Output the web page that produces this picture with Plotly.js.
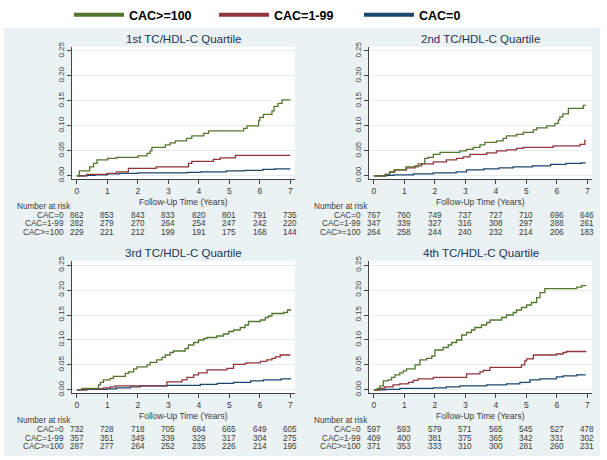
<!DOCTYPE html>
<html><head><meta charset="utf-8">
<script src="https://cdn.plot.ly/plotly-3.0.1.min.js"></script>
<style>html,body{margin:0;padding:0;background:#fff}#chart{width:607px;height:460px}</style>
</head><body><div id="chart"></div>
<script>
// ---------- DATA ----------
const years = [0, 1, 2, 3, 4, 5, 6, 7];
const groupNames = ['CAC>=100', 'CAC=1-99', 'CAC=0'];
const panelTitles = ['1st TC/HDL-C Quartile', '2nd TC/HDL-C Quartile', '3rd TC/HDL-C Quartile', '4th TC/HDL-C Quartile'];
const xTitle = 'Follow-Up Time (Years)';
const riskHeader = 'Number at risk';
const riskRowLabels = ['CAC=0', 'CAC=1-99', 'CAC>=100'];

// Q1 cumulative incidence (step curves)
const q1_cac100_t = [0, 0.08, 0.42, 0.55, 0.66, 1.01, 1.3, 2.0, 2.3, 2.4, 2.46, 2.9, 3.06, 3.23, 3.6, 3.77, 4.16, 4.32, 5.47, 5.58, 5.96, 6.0, 6.12, 6.4, 6.47, 6.6, 6.73, 7.0];
const q1_cac100_y = [0, 0.010, 0.018, 0.025, 0.032, 0.035, 0.037, 0.040, 0.045, 0.050, 0.057, 0.062, 0.066, 0.070, 0.075, 0.080, 0.085, 0.090, 0.095, 0.100, 0.110, 0.117, 0.123, 0.130, 0.139, 0.145, 0.152, 0.152];
const q1_cac1_t = [0, 0.33, 0.98, 1.3, 1.69, 2.6, 3.66, 3.77, 4.48, 4.7, 5.2, 7.0];
const q1_cac1_y = [0, 0.003, 0.005, 0.008, 0.015, 0.018, 0.025, 0.029, 0.033, 0.036, 0.041, 0.041];
const q1_cac0_t = [0, 0.3, 0.6, 1.0, 1.4, 2.0, 3.6, 4.05, 4.9, 5.5, 6.1, 6.5, 7.0];
const q1_cac0_y = [0, 0.001, 0.002, 0.004, 0.005, 0.006, 0.007, 0.008, 0.010, 0.011, 0.013, 0.014, 0.014];

// Q2
const q2_cac100_t = [0, 0.36, 0.52, 0.66, 1.05, 1.45, 1.67, 1.78, 1.95, 2.17, 2.82, 3.04, 3.26, 3.48, 3.64, 4.02, 4.24, 4.35, 4.68, 4.9, 5.23, 5.34, 5.67, 5.94, 6.05, 6.1, 6.2, 6.38, 6.87, 6.95];
const q2_cac100_y = [0, 0.003, 0.007, 0.012, 0.018, 0.024, 0.035, 0.037, 0.043, 0.047, 0.050, 0.053, 0.057, 0.062, 0.067, 0.070, 0.075, 0.080, 0.083, 0.087, 0.092, 0.096, 0.100, 0.105, 0.112, 0.118, 0.124, 0.135, 0.141, 0.141];
const q2_cac1_t = [0, 0.4, 0.52, 0.69, 1.07, 1.35, 1.56, 1.95, 2.38, 2.71, 2.93, 3.15, 3.7, 4.02, 4.35, 4.68, 4.9, 5.88, 6.76, 6.92, 6.95];
const q2_cac1_y = [0, 0.003, 0.008, 0.012, 0.016, 0.020, 0.024, 0.028, 0.032, 0.035, 0.038, 0.043, 0.046, 0.050, 0.052, 0.055, 0.057, 0.060, 0.063, 0.071, 0.071];
const q2_cac0_t = [0, 0.4, 0.65, 1.3, 1.95, 2.7, 3.04, 3.6, 4.1, 4.57, 5.2, 5.8, 6.3, 6.8, 6.95];
const q2_cac0_y = [0, 0.001, 0.002, 0.004, 0.006, 0.008, 0.012, 0.014, 0.016, 0.018, 0.020, 0.023, 0.025, 0.026, 0.026];

// Q3
const q3_cac100_t = [0, 0.16, 0.71, 0.77, 0.87, 1.09, 1.2, 1.59, 1.7, 1.86, 1.97, 2.3, 2.4, 2.62, 2.79, 2.9, 3.06, 3.17, 3.55, 3.66, 3.83, 3.99, 4.16, 4.27, 4.59, 4.81, 4.98, 5.14, 5.36, 5.52, 5.63, 6.02, 6.18, 6.29, 6.4, 6.78, 6.91, 7.0];
const q3_cac100_y = [0, 0.003, 0.010, 0.015, 0.020, 0.023, 0.027, 0.033, 0.036, 0.042, 0.046, 0.050, 0.055, 0.060, 0.065, 0.070, 0.075, 0.078, 0.083, 0.090, 0.095, 0.100, 0.103, 0.105, 0.108, 0.112, 0.117, 0.120, 0.125, 0.130, 0.137, 0.140, 0.145, 0.148, 0.153, 0.155, 0.160, 0.162];
const q3_cac1_t = [0, 0.33, 0.87, 1.09, 1.26, 2.95, 3.45, 3.61, 3.83, 3.99, 4.27, 4.92, 5.14, 5.52, 5.58, 6.02, 6.23, 6.4, 6.51, 6.67, 7.0];
const q3_cac1_y = [0, 0.002, 0.004, 0.006, 0.008, 0.016, 0.020, 0.025, 0.030, 0.034, 0.040, 0.043, 0.051, 0.053, 0.054, 0.057, 0.060, 0.063, 0.066, 0.070, 0.070];
const q3_cac0_t = [0, 0.33, 0.98, 1.3, 1.75, 2.08, 2.95, 4.05, 4.6, 5.14, 5.7, 6.12, 6.7, 7.0];
const q3_cac0_y = [0, 0.001, 0.002, 0.004, 0.006, 0.008, 0.009, 0.011, 0.013, 0.015, 0.018, 0.020, 0.022, 0.024];

// Q4
const q4_cac100_t = [0, 0.11, 0.2, 0.31, 0.47, 0.58, 0.69, 0.85, 0.96, 1.07, 1.35, 1.51, 1.73, 1.9, 2.0, 2.27, 2.44, 2.55, 2.71, 2.88, 3.04, 3.2, 3.31, 3.53, 3.7, 3.81, 4.19, 4.35, 4.57, 4.68, 4.84, 5.01, 5.17, 5.34, 5.45, 5.61, 6.65, 6.81, 6.95];
const q4_cac100_y = [0, 0.003, 0.008, 0.018, 0.020, 0.025, 0.030, 0.034, 0.038, 0.042, 0.050, 0.060, 0.063, 0.068, 0.080, 0.085, 0.090, 0.095, 0.100, 0.110, 0.115, 0.120, 0.125, 0.130, 0.135, 0.140, 0.145, 0.150, 0.155, 0.160, 0.165, 0.170, 0.175, 0.185, 0.195, 0.203, 0.206, 0.209, 0.210];
const q4_cac1_t = [0, 0.2, 0.36, 0.63, 0.85, 1.13, 1.29, 1.45, 1.95, 3.04, 3.48, 3.59, 3.81, 4.84, 4.95, 5.01, 5.23, 5.99, 6.21, 6.32, 6.95];
const q4_cac1_y = [0, 0.003, 0.006, 0.010, 0.012, 0.015, 0.019, 0.022, 0.025, 0.032, 0.036, 0.039, 0.045, 0.050, 0.058, 0.062, 0.070, 0.072, 0.075, 0.077, 0.078];
const q4_cac0_t = [0, 0.4, 0.85, 1.95, 2.38, 2.82, 3.7, 4.35, 4.79, 5.12, 5.45, 5.99, 6.21, 6.65, 6.95];
const q4_cac0_y = [0, 0.001, 0.003, 0.004, 0.006, 0.008, 0.010, 0.012, 0.015, 0.020, 0.022, 0.026, 0.028, 0.030, 0.030];

// Number at risk
const q1_risk_cac0 = [862, 853, 843, 833, 820, 801, 791, 735];
const q1_risk_cac1 = [282, 279, 270, 264, 254, 247, 242, 220];
const q1_risk_cac100 = [229, 221, 212, 199, 191, 175, 168, 144];
const q2_risk_cac0 = [767, 760, 749, 737, 727, 710, 696, 646];
const q2_risk_cac1 = [347, 339, 327, 316, 308, 297, 288, 261];
const q2_risk_cac100 = [264, 258, 244, 240, 232, 214, 206, 183];
const q3_risk_cac0 = [732, 728, 718, 705, 684, 665, 649, 605];
const q3_risk_cac1 = [357, 351, 349, 339, 329, 317, 304, 275];
const q3_risk_cac100 = [287, 277, 264, 252, 235, 226, 214, 195];
const q4_risk_cac0 = [597, 593, 579, 571, 565, 545, 527, 478];
const q4_risk_cac1 = [409, 400, 381, 375, 365, 342, 331, 302];
const q4_risk_cac100 = [371, 353, 333, 310, 300, 281, 260, 231];

// ---------- BUILD ----------
const W = 607, H = 460;
const COL = {g: '#55752f', r: '#90353b', b: '#1a476f'};
const FONT = 'Liberation Sans, Arial, sans-serif';
const TXT = '#3a3a3a';
const fx = px => px / W;
const fy = py => 1 - py / H;

const panels = [
  {curves: [[q1_cac0_t, q1_cac0_y], [q1_cac1_t, q1_cac1_y], [q1_cac100_t, q1_cac100_y]], risk: [q1_risk_cac0, q1_risk_cac1, q1_risk_cac100]},
  {curves: [[q2_cac0_t, q2_cac0_y], [q2_cac1_t, q2_cac1_y], [q2_cac100_t, q2_cac100_y]], risk: [q2_risk_cac0, q2_risk_cac1, q2_risk_cac100]},
  {curves: [[q3_cac0_t, q3_cac0_y], [q3_cac1_t, q3_cac1_y], [q3_cac100_t, q3_cac100_y]], risk: [q3_risk_cac0, q3_risk_cac1, q3_risk_cac100]},
  {curves: [[q4_cac0_t, q4_cac0_y], [q4_cac1_t, q4_cac1_y], [q4_cac100_t, q4_cac100_y]], risk: [q4_risk_cac0, q4_risk_cac1, q4_risk_cac100]}
];
const curveColors = [COL.b, COL.r, COL.g];

// pixel geometry of each panel
const geo = [
  {x0: 72, x1: 295, y0: 44, y1: 177, dx: 0},
  {x0: 369, x1: 592, y0: 44, y1: 177, dx: 297.3},
  {x0: 72, x1: 295, y0: 259.5, y1: 392.5, dx: 0},
  {x0: 369, x1: 592, y0: 259.5, y1: 392.5, dx: 297.3}
];

const traces = [];
const layout = {
  width: W, height: H,
  margin: {l: 0, r: 0, t: 0, b: 0},
  paper_bgcolor: '#ffffff',
  plot_bgcolor: 'rgba(0,0,0,0)',
  font: {family: FONT, color: TXT, size: 8},
  shapes: [{type: 'rect', xref: 'paper', yref: 'paper', x0: fx(4), x1: fx(600), y0: fy(456), y1: fy(25), fillcolor: '#eaf2f3', line: {width: 0}, layer: 'below'}],
  annotations: []
};

panels.forEach((p, i) => {
  const n = i + 1;
  const xa = 'x' + (n === 1 ? '' : n), ya = 'y' + (n === 1 ? '' : n);
  const g = geo[i];
  p.curves.forEach((c, k) => {
    traces.push({x: c[0], y: c[1], xaxis: xa, yaxis: ya, type: 'scatter', mode: 'lines',
      line: {shape: 'hv', color: curveColors[k], width: 1.3}, showlegend: false, hoverinfo: 'skip'});
  });
  layout['xaxis' + (n === 1 ? '' : n)] = {
    domain: [fx(g.x0), fx(g.x1)], anchor: ya, range: [-0.16, 7.155],
    tickmode: 'array', tickvals: years, ticktext: years.map(String),
    showline: true, linecolor: '#444', linewidth: 1, ticks: 'outside', ticklen: 4, tickcolor: '#444',
    showgrid: false, zeroline: false, tickfont: {size: 8.5, color: TXT}
  };
  layout['yaxis' + (n === 1 ? '' : n)] = {
    domain: [fy(g.y1), fy(g.y0)], anchor: xa, range: [-0.006, 0.2585],
    tick0: 0, dtick: 0.05, tickformat: '.2f', tickangle: -90,
    showline: true, linecolor: '#444', linewidth: 1, ticks: 'outside', ticklen: 4, tickcolor: '#444',
    showgrid: true, gridcolor: '#e6edef', gridwidth: 1, zeroline: false, tickfont: {size: 8, color: TXT}
  };
  // white plot region
  layout.shapes.push({type: 'rect', xref: xa + ' domain', yref: ya + ' domain', x0: 0, x1: 1, y0: 0, y1: 1, fillcolor: '#ffffff', line: {width: 0}, layer: 'below'});
  // panel title
  layout.annotations.push({text: panelTitles[i], xref: xa + ' domain', x: 0.5, yref: 'paper', y: fy(g.y0 - 8), xanchor: 'center', yanchor: 'middle', showarrow: false, font: {size: 11.5, color: '#1c3557'}});
  // x axis title
  layout.annotations.push({text: xTitle, xref: xa + ' domain', x: 0.5, yref: 'paper', y: fy(g.y1 + 23.5), xanchor: 'center', yanchor: 'middle', showarrow: false, font: {size: 8.5, color: TXT}});
  // number at risk table
  const base = g.y1 + 28;
  layout.annotations.push({text: riskHeader, xref: 'paper', x: fx(15 + g.dx), yref: 'paper', y: fy(base), xanchor: 'left', yanchor: 'middle', showarrow: false, font: {size: 8.2, color: TXT}});
  p.risk.forEach((row, r) => {
    const yy = fy(base + 8.7 * (r + 1));
    layout.annotations.push({text: riskRowLabels[r], xref: 'paper', x: fx(66 + g.dx), yref: 'paper', y: yy, xanchor: 'right', yanchor: 'middle', showarrow: false, font: {size: 8.2, color: TXT}});
    row.forEach((v, j) => {
      layout.annotations.push({text: String(v), xref: xa, x: years[j], yref: 'paper', y: yy, xanchor: 'center', yanchor: 'middle', showarrow: false, font: {size: 8.2, color: TXT}});
    });
  });
});

// legend: one entry per group, thick line symbols
const legendSpec = [
  {name: groupNames[0], color: COL.g, textStart: 130},
  {name: groupNames[1], color: COL.r, textStart: 275},
  {name: groupNames[2], color: COL.b, textStart: 420}
];
legendSpec.forEach((s, k) => {
  const lname = k === 0 ? 'legend' : 'legend' + (k + 1);
  traces.push({x: [null], y: [null], type: 'scatter', mode: 'lines', name: s.name, legend: lname,
    line: {color: s.color, width: 4}, showlegend: true, hoverinfo: 'skip'});
  layout[lname] = {x: fx(s.textStart - 61), xanchor: 'left', y: fy(12), yanchor: 'middle',
    orientation: 'h', bgcolor: 'rgba(0,0,0,0)', borderwidth: 0, itemwidth: 50,
    font: {family: 'Liberation Sans, Arial, sans-serif', size: 12.5, color: '#000', weight: 'bold'}};
});

Plotly.newPlot('chart', traces, layout, {staticPlot: true, displayModeBar: false});
</script>
</body></html>
